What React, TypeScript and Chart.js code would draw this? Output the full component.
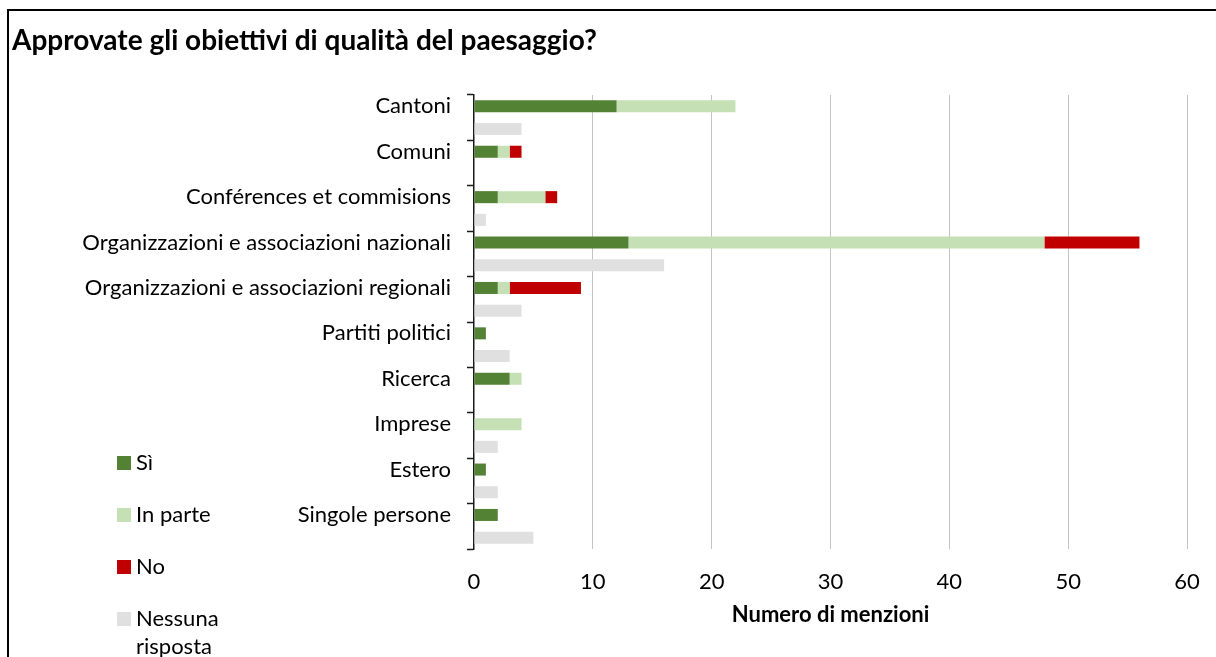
import React, { useEffect, useRef } from 'react';
import { Chart, registerables } from 'chart.js';

Chart.register(...registerables);

const chartTitle = 'Approvate gli obiettivi di qualità del paesaggio?';
const xAxisTitle = 'Numero di menzioni';
const categories = [
  'Cantoni',
  'Comuni',
  'Conférences et commisions',
  'Organizzazioni e associazioni nazionali',
  'Organizzazioni e associazioni regionali',
  'Partiti politici',
  'Ricerca',
  'Imprese',
  'Estero',
  'Singole persone',
];
const si = [12, 2, 2, 13, 2, 1, 3, 0, 1, 2];
const inParte = [10, 1, 4, 35, 1, 0, 1, 4, 0, 0];
const no = [0, 1, 1, 8, 6, 0, 0, 0, 0, 0];
const nessunaRisposta = [4, 0, 1, 16, 4, 3, 0, 2, 2, 5];
const seriesNames = ['Sì', 'In parte', 'No', 'Nessuna risposta'];
const seriesColors = ['#548235', '#C5E0B4', '#C00000', '#E0E0E0'];
const xMin = 0;
const xMax = 60;
const xStep = 10;

const FONT = 'Lato, "Open Sans", sans-serif';
const FS = 22;

// each category has two rows: the answers row and the "no answer" row
const rowLabels = categories.flatMap((c) => [c, '']);
const topRow = (vals: number[]) => vals.flatMap((v) => [v, null]);
const bottomRow = (vals: number[]) => vals.flatMap((v) => [null, v]);

const decorPlugin = {
  id: 'decor',
  afterDraw(chart: any) {
    const ctx = chart.ctx;
    ctx.save();
    // title
    ctx.fillStyle = '#000';
    ctx.font = `bold 28px ${FONT}`;
    ctx.textAlign = 'left';
    ctx.textBaseline = 'middle';
    ctx.fillText(chartTitle, 12, 41);
    // legend
    ctx.font = `${FS}px ${FONT}`;
    const boxX = 117;
    const textX = 136;
    let y = 463;
    chart.data.datasets.forEach((ds: any) => {
      ctx.fillStyle = ds.backgroundColor;
      ctx.fillRect(boxX, y - 7, 14, 14);
      ctx.fillStyle = '#000';
      const words = String(ds.label).split(' ');
      const lines: string[] = [];
      let cur = '';
      words.forEach((w) => {
        const test = cur ? cur + ' ' + w : w;
        if (cur && ctx.measureText(test).width > 100) {
          lines.push(cur);
          cur = w;
        } else {
          cur = test;
        }
      });
      if (cur) lines.push(cur);
      lines.forEach((ln, i) => ctx.fillText(ln, textX, y + i * 28));
      y += 52;
    });
    ctx.restore();
  },
};

export default function App() {
  const canvasRef = useRef<HTMLCanvasElement | null>(null);

  useEffect(() => {
    if (!canvasRef.current) return;
    const chart = new Chart(canvasRef.current, {
      type: 'bar',
      data: {
        labels: rowLabels,
        datasets: [
          { label: seriesNames[0], data: topRow(si), backgroundColor: seriesColors[0] },
          { label: seriesNames[1], data: topRow(inParte), backgroundColor: seriesColors[1] },
          { label: seriesNames[2], data: topRow(no), backgroundColor: seriesColors[2] },
          { label: seriesNames[3], data: bottomRow(nessunaRisposta), backgroundColor: seriesColors[3] },
        ],
      },
      options: {
        indexAxis: 'y',
        animation: false,
        responsive: false,
        maintainAspectRatio: false,
        layout: { padding: { top: 95, right: 29, left: 0, bottom: 0 } },
        datasets: { bar: { barPercentage: 0.53, categoryPercentage: 1 } },
        plugins: {
          legend: { display: false },
          title: { display: false },
          tooltip: { enabled: false },
        },
        scales: {
          x: {
            stacked: true,
            min: xMin,
            max: xMax,
            afterFit: (scale: any) => {
              scale.height = 108;
              scale.paddingLeft = 0;
              scale.paddingRight = 0;
            },
            ticks: {
              stepSize: xStep,
              color: '#000',
              padding: 20,
              font: { family: FONT, size: FS },
            },
            grid: {
              color: (c: any) => (c.tick && c.tick.value === 0 ? 'transparent' : '#C4C4C4'),
              drawTicks: false,
              lineWidth: 1,
            },
            border: { display: false },
            title: {
              display: true,
              text: xAxisTitle,
              color: '#000',
              font: { family: FONT, size: FS, weight: 'bold' },
              padding: { top: 0, bottom: 29 },
            },
          },
          y: {
            stacked: true,
            afterFit: (scale: any) => {
              scale.width = 474;
            },
            ticks: {
              autoSkip: false,
              color: '#000',
              padding: 16,
              font: { family: FONT, size: FS },
            },
            grid: {
              drawOnChartArea: false,
              drawTicks: true,
              tickLength: 7,
              tickWidth: 1.5,
              tickColor: (c: any) =>
                c.index === undefined || c.index % 2 === 0 ? '#1a1a1a' : 'transparent',
            },
            border: { display: true, color: '#1a1a1a', width: 1.5 },
          },
        },
      },
      plugins: [decorPlugin],
    } as any);
    return () => chart.destroy();
  }, []);

  return (
    <div>
      <canvas
        ref={canvasRef}
        width={1216}
        height={657}
        style={{ position: 'fixed', left: 0, top: 0, width: 1216, height: 657, background: '#fff' }}
      />
      <div
        style={{
          position: 'fixed',
          left: 7,
          top: 9,
          width: 1400,
          height: 800,
          borderLeft: '2px solid #000',
          borderTop: '2px solid #000',
          pointerEvents: 'none',
        }}
      />
    </div>
  );
}
